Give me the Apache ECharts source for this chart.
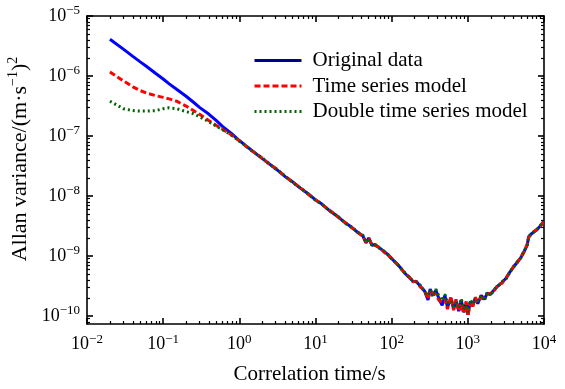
<!DOCTYPE html>
<html><head><meta charset="utf-8">
<script src="https://cdn.jsdelivr.net/npm/echarts@6/dist/echarts.min.js"></script>
<style>html,body{margin:0;padding:0;background:#fff}#c{width:565px;height:389px}</style>
</head><body><div id="c"></div>
<script>
// Correlation time (s)
const tau = [
  0.02, 0.03, 0.04, 0.05, 0.06, 0.08, 0.1, 0.12, 0.15, 0.2,
  0.25, 0.3, 0.4, 0.5, 0.6, 0.8, 1, 1.2, 1.5, 2,
  2.5, 3, 4, 5, 6, 8, 10, 12, 15, 20,
  25, 30, 36, 42, 46, 50, 55, 60, 70, 80,
  90, 100, 115, 130, 150, 170, 190, 210, 240, 270,
  300, 320, 350, 380, 420, 460, 500, 540, 600, 650,
  700, 760, 820, 880, 950, 1000, 1080, 1150, 1250, 1350,
  1500, 1650, 1800, 2000, 2200, 2500, 2800, 3200, 3600, 4000,
  4500, 5000, 5500, 6000, 6300, 7000, 8000, 9000, 10000
];
// Allan variance, Original data
const originalData = [
  4.1e-6, 2.8e-6, 2.12e-6, 1.72e-6, 1.45e-6, 1.1e-6, 8.9e-7, 7.4e-7, 6.0e-7, 4.6e-7,
  3.65e-7, 3.0e-7, 2.3e-7, 1.8e-7, 1.45e-7, 1.08e-7, 8.4e-8, 6.95e-8, 5.6e-8, 4.2e-8,
  3.4e-8, 2.85e-8, 2.1e-8, 1.72e-8, 1.42e-8, 1.09e-8, 8.6e-9, 7.4e-9, 5.8e-9, 4.45e-9,
  3.5e-9, 3.0e-9, 2.45e-9, 2.15e-9, 1.65e-9, 2.0e-9, 1.5e-9, 1.55e-9, 1.35e-9, 1.18e-9,
  1.05e-9, 9.0e-10, 7.6e-10, 6.4e-10, 5.1e-10, 4.4e-10, 3.8e-10, 3.75e-10, 3.1e-10, 2.6e-10,
  1.85e-10, 2.8e-10, 2.2e-10, 2.7e-10, 1.9e-10, 1.5e-10, 2.2e-10, 1.4e-10, 2.0e-10, 1.3e-10,
  1.8e-10, 1.2e-10, 1.85e-10, 1.15e-10, 1.65e-10, 1.05e-10, 1.75e-10, 1.45e-10, 2.0e-10, 1.6e-10,
  2.2e-10, 1.9e-10, 2.4e-10, 2.3e-10, 2.7e-10, 3.2e-10, 3.6e-10, 4.3e-10, 5.5e-10, 6.6e-10,
  8.0e-10, 9.5e-10, 1.2e-9, 1.5e-9, 2.1e-9, 2.4e-9, 2.7e-9, 3.2e-9, 3.8e-9
];
// Allan variance, Time series model
const timeSeriesModel = [
  1.17e-6, 8.3e-7, 6.6e-7, 5.7e-7, 5.2e-7, 4.7e-7, 4.4e-7, 4.15e-7, 3.8e-7, 3.15e-7,
  2.65e-7, 2.3e-7, 1.8e-7, 1.5e-7, 1.3e-7, 1.03e-7, 8.3e-8, 6.9e-8, 5.55e-8, 4.25e-8,
  3.35e-8, 2.9e-8, 2.12e-8, 1.7e-8, 1.44e-8, 1.07e-8, 8.7e-9, 7.3e-9, 5.9e-9, 4.4e-9,
  3.55e-9, 2.95e-9, 2.5e-9, 2.1e-9, 1.7e-9, 1.95e-9, 1.55e-9, 1.5e-9, 1.38e-9, 1.15e-9,
  1.02e-9, 9.2e-10, 7.5e-10, 6.5e-10, 5.0e-10, 4.5e-10, 3.7e-10, 3.8e-10, 3.0e-10, 2.7e-10,
  1.9e-10, 2.6e-10, 2.4e-10, 2.3e-10, 1.8e-10, 1.7e-10, 1.9e-10, 1.3e-10, 2.1e-10, 1.25e-10,
  1.9e-10, 1.2e-10, 1.6e-10, 1.1e-10, 1.75e-10, 1.0e-10, 1.6e-10, 1.35e-10, 2.05e-10, 1.7e-10,
  2.0e-10, 2.0e-10, 2.3e-10, 2.4e-10, 2.6e-10, 3.3e-10, 3.5e-10, 4.4e-10, 5.4e-10, 6.8e-10,
  7.9e-10, 9.7e-10, 1.18e-9, 1.55e-9, 2.05e-9, 2.45e-9, 2.75e-9, 3.15e-9, 3.85e-9
];
// Allan variance, Double time series model
const doubleTimeSeriesModel = [
  3.8e-7, 2.85e-7, 2.65e-7, 2.6e-7, 2.6e-7, 2.65e-7, 2.85e-7, 2.95e-7, 2.85e-7, 2.55e-7,
  2.35e-7, 2.1e-7, 1.72e-7, 1.45e-7, 1.28e-7, 1.02e-7, 8.2e-8, 7.0e-8, 5.5e-8, 4.3e-8,
  3.4e-8, 2.8e-8, 2.15e-8, 1.68e-8, 1.45e-8, 1.08e-8, 8.5e-9, 7.4e-9, 5.75e-9, 4.5e-9,
  3.45e-9, 3.0e-9, 2.45e-9, 2.2e-9, 1.68e-9, 1.98e-9, 1.52e-9, 1.57e-9, 1.33e-9, 1.2e-9,
  1.04e-9, 8.9e-10, 7.7e-10, 6.3e-10, 5.2e-10, 4.3e-10, 3.9e-10, 3.7e-10, 3.2e-10, 2.5e-10,
  2.2e-10, 2.7e-10, 2.1e-10, 2.8e-10, 2.1e-10, 1.8e-10, 2.3e-10, 1.6e-10, 1.8e-10, 1.45e-10,
  1.65e-10, 1.4e-10, 1.95e-10, 1.3e-10, 1.5e-10, 1.15e-10, 1.85e-10, 1.6e-10, 1.8e-10, 1.75e-10,
  2.2e-10, 1.8e-10, 2.5e-10, 2.2e-10, 2.8e-10, 3.1e-10, 3.7e-10, 4.2e-10, 5.6e-10, 6.5e-10,
  8.1e-10, 9.4e-10, 1.22e-9, 1.48e-9, 2.1e-9, 2.4e-9, 2.7e-9, 3.25e-9, 3.75e-9
];
const seriesNames = ['Original data', 'Time series model', 'Double time series model'];
const xTickExponents = [-2, -1, 0, 1, 2, 3, 4];
const yTickExponents = [-10, -9, -8, -7, -6, -5];
const xAxisTitle = 'Correlation time/s';
const yAxisTitle = '{a|Allan variance/(m·s}{s|−1}{a|)}{s|2}';

const FONT = 'Liberation Serif';
const lg = Math.log10;
function minorTicks(exps, lo, hi) {
  const out = [];
  for (let k = exps[0] - 1; k <= exps[exps.length - 1]; k++) {
    for (let m = 2; m <= 9; m++) {
      const v = k + lg(m);
      if (v > lo && v < hi) out.push(v);
    }
  }
  return out;
}
const xMin = -2, xMax = 4, yMin = -10.134, yMax = -5;
const xMinor = minorTicks(xTickExponents, xMin, xMax);
const yMinor = minorTicks(yTickExponents, yMin, yMax);

const supRich = {
  b: { fontFamily: FONT, fontSize: 18, color: '#000' },
  s: { fontFamily: FONT, fontSize: 13, color: '#000', padding: [0, 0, 10, 0] }
};
function expLabel(v) {
  const e = Math.round(v);
  return '{b|10}{s|' + String(e).replace('-', '−') + '}';
}
const lineBlack = { color: '#000', width: 1.6 };

function makeAxes(lo, hi, majors, minors, sideA, sideB, title, labelMargin) {
  const base = { type: 'value', min: lo, max: hi, splitLine: { show: false }, axisPointer: { show: false } };
  return [
    Object.assign({}, base, {
      position: sideA,
      axisLine: { show: true, onZero: false, lineStyle: lineBlack },
      axisTick: { show: true, inside: true, length: 6, customValues: majors, lineStyle: lineBlack },
      axisLabel: { show: true, customValues: majors, formatter: expLabel, rich: supRich, margin: labelMargin },
      name: title.text, nameLocation: 'middle', nameGap: title.gap, nameTextStyle: title.style
    }),
    Object.assign({}, base, {
      position: sideA,
      axisLine: { show: false, onZero: false },
      axisTick: { show: true, inside: true, length: 3, customValues: minors, lineStyle: { color: '#000', width: 1.2 } },
      axisLabel: { show: false }
    }),
    Object.assign({}, base, {
      position: sideB,
      axisLine: { show: true, onZero: false, lineStyle: lineBlack },
      axisTick: { show: true, inside: true, length: 6, customValues: majors, lineStyle: lineBlack },
      axisLabel: { show: false }
    }),
    Object.assign({}, base, {
      position: sideB,
      axisLine: { show: false, onZero: false },
      axisTick: { show: true, inside: true, length: 3, customValues: minors, lineStyle: { color: '#000', width: 1.2 } },
      axisLabel: { show: false }
    })
  ];
}

const xAxes = makeAxes(xMin, xMax, xTickExponents, xMinor, 'bottom', 'top', {
  text: xAxisTitle, gap: 40,
  style: { fontFamily: FONT, fontSize: 21, color: '#000', padding: [0, 12, 0, 0] }
}, 9);
const yAxes = makeAxes(yMin, yMax, yTickExponents, yMinor, 'left', 'right', {
  text: yAxisTitle, gap: 47,
  style: {
    fontFamily: FONT, color: '#000',
    rich: {
      a: { fontFamily: FONT, fontSize: 22, color: '#000' },
      s: { fontFamily: FONT, fontSize: 14, color: '#000', padding: [0, 0, 12, 0] }
    },
    padding: [0, 0, 0, 22]
  }
}, 7);

function toPairs(vals) {
  return tau.map((t, i) => [lg(t), lg(vals[i])]);
}

const colors = ['#0000ff', '#ff0000', '#006400'];
const option = {
  animation: false,
  backgroundColor: '#fff',
  grid: { left: 87, right: 21, top: 16, bottom: 65, containLabel: false, outerBoundsMode: 'none' },
  xAxis: xAxes,
  yAxis: yAxes,
  legend: {
    orient: 'vertical', left: 253, top: 50, padding: 0,
    itemWidth: 47, itemHeight: 2, itemGap: 4.5,
    itemStyle: { opacity: 0 },
    textStyle: { fontFamily: FONT, fontSize: 21, color: '#000', padding: [0, 0, 0, 6] },
    data: [
      { name: seriesNames[0], lineStyle: { color: '#000090', width: 3 } },
      { name: seriesNames[1], lineStyle: { width: 3 } },
      { name: seriesNames[2], lineStyle: { width: 3 } }
    ]
  },
  series: [
    { name: seriesNames[0], type: 'line', data: toPairs(originalData), showSymbol: false, symbol: 'none',
      color: colors[0], lineStyle: { color: colors[0], width: 3 }, z: 2 },
    { name: seriesNames[1], type: 'line', data: toPairs(timeSeriesModel), showSymbol: false, symbol: 'none',
      color: colors[1], lineStyle: { color: colors[1], width: 3, type: [6, 3] }, z: 3 },
    { name: seriesNames[2], type: 'line', data: toPairs(doubleTimeSeriesModel), showSymbol: false, symbol: 'none',
      color: colors[2], lineStyle: { color: colors[2], width: 3, type: [2, 3] }, z: 4 }
  ]
};
const chart = echarts.init(document.getElementById('c'), null, { renderer: 'canvas' });
chart.setOption(option);
</script>
</body></html>
